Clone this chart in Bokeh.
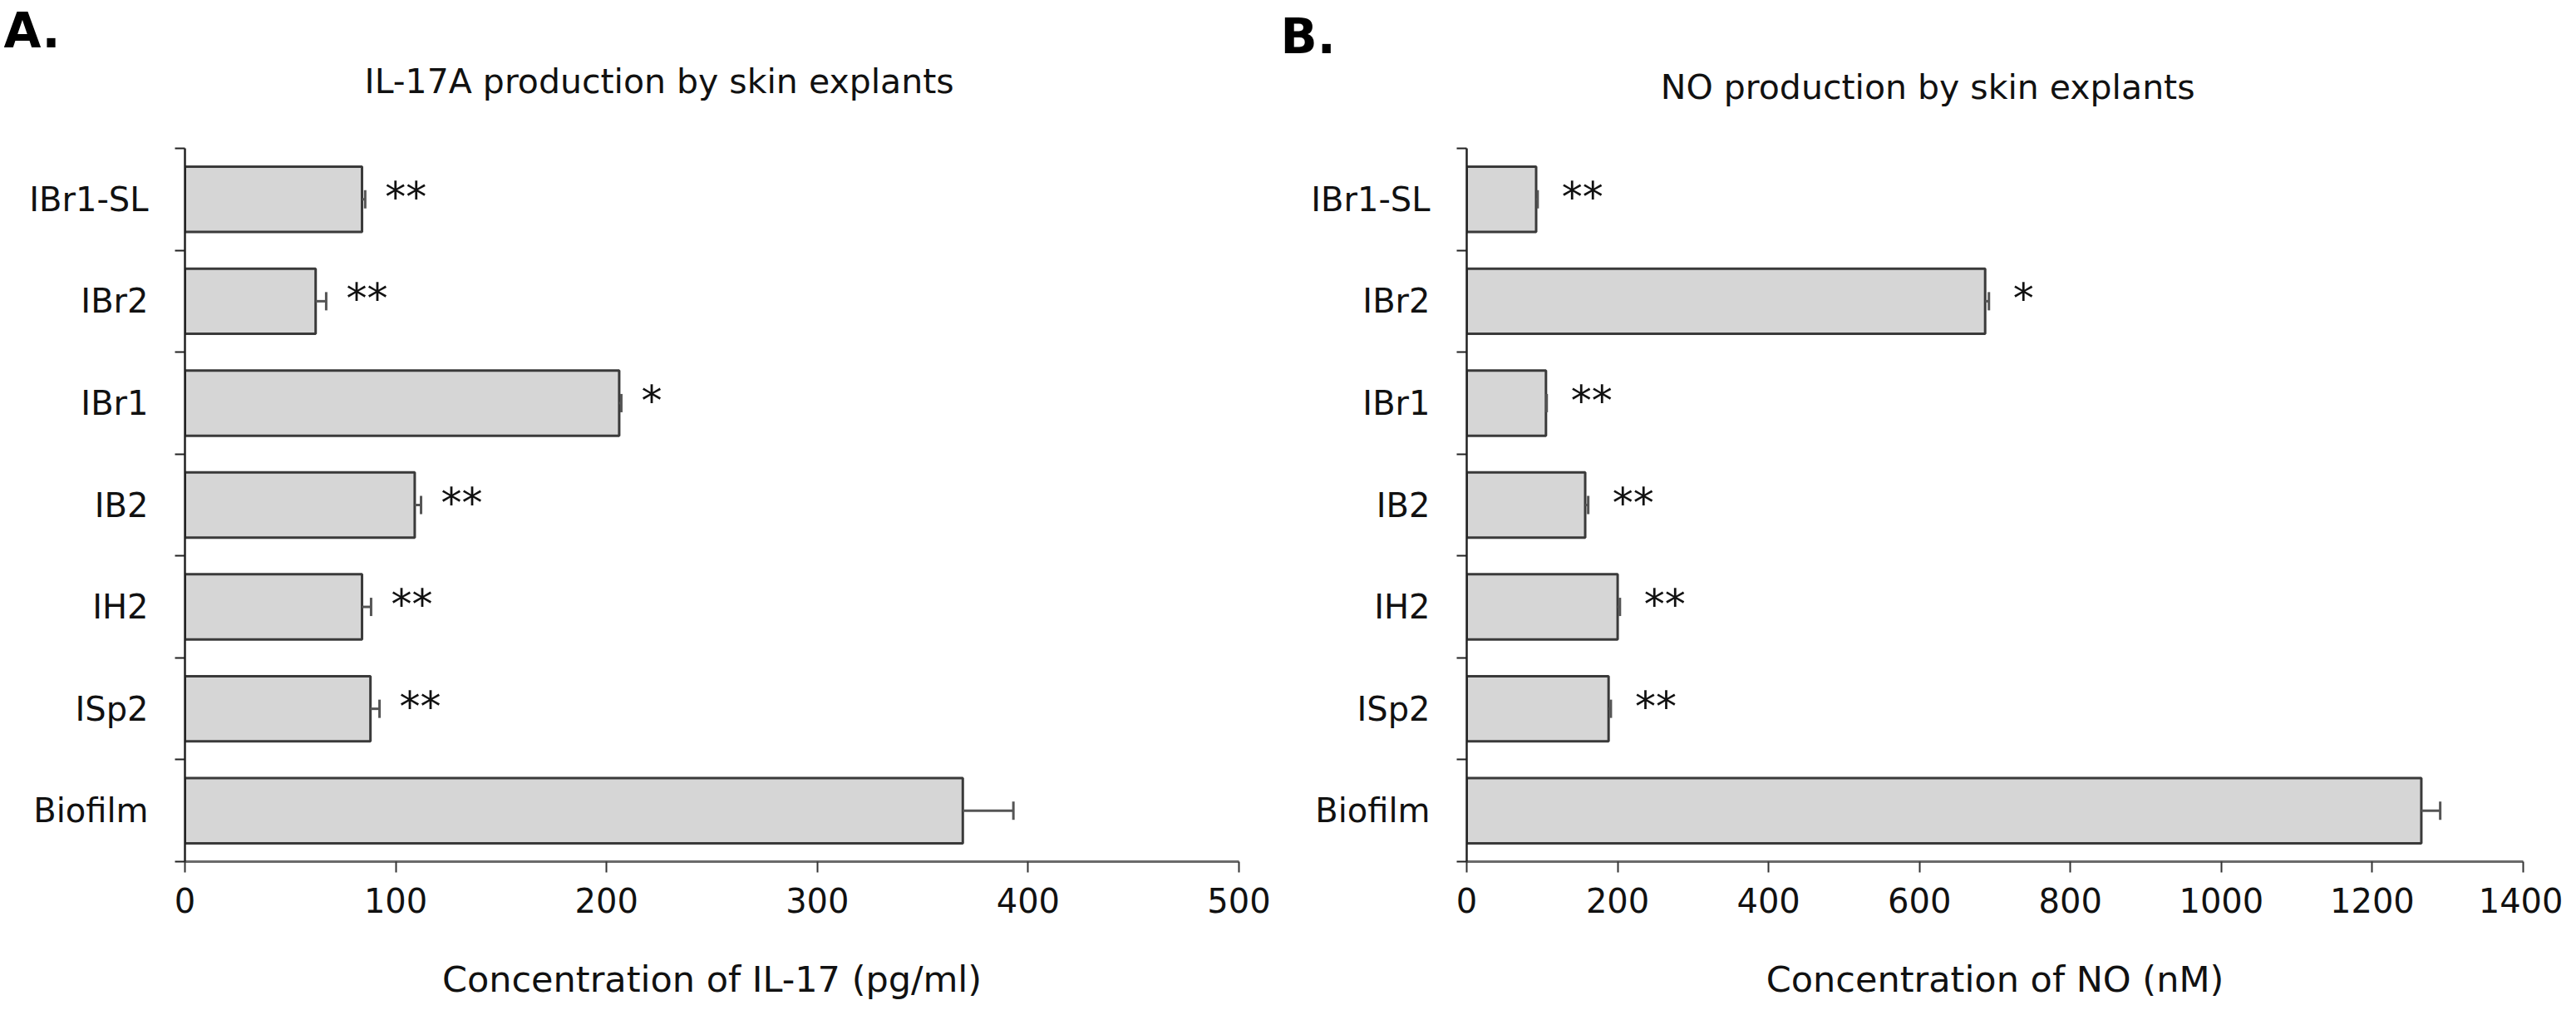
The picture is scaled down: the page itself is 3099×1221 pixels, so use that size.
from bokeh.plotting import figure
from bokeh.models import (ColumnDataSource, Range1d, FixedTicker, Whisker, TeeHead, Title,
                          LinearAxis)
from bokeh.layouts import row
from bokeh.core.properties import value
from bokeh.embed import file_html
from bokeh.resources import INLINE

# ---------------- data ----------------
categories = ["IBr1-SL", "IBr2", "IBr1", "IB2", "IH2", "ISp2", "Biofilm"]  # top to bottom

il17_mean = [84, 62, 206, 109, 84, 88, 369]
il17_err = [1.5, 5, 1, 3, 4.3, 4.3, 24]
il17_stars = ["**", "**", "*", "**", "**", "**", ""]
il17_ticks = [0, 100, 200, 300, 400, 500]

no_mean = [92, 687, 105, 157, 200, 188, 1265]
no_err = [2, 5, 1, 4, 3, 3, 25]
no_stars = ["**", "*", "**", "**", "**", "**", ""]
no_ticks = [0, 200, 400, 600, 800, 1000, 1200, 1400]

FONT = "DejaVu Sans"


def panel(mean, err, stars, ticks, xlabel, title, letter, width, borders,
          title_center, title_standoff, letter_offset, star_pad):
    n = len(categories)
    pos = [n - 1 - i for i in range(n)]
    src = ColumnDataSource(dict(
        pos=pos, mean=mean, upper=[m + e for m, e in zip(mean, err)],
        stars=stars, name=categories))
    p = figure(width=width, height=1205, x_range=Range1d(ticks[0], ticks[-1]),
               y_range=Range1d(-0.5, n - 0.5), output_backend="svg",
               toolbar_location=None, title=None,
               min_border_left=borders[0], min_border_right=borders[1],
               min_border_top=borders[2], min_border_bottom=borders[3])
    p.grid.visible = False
    p.outline_line_color = None
    p.background_fill_color = "white"

    p.hbar(y="pos", left=0, right="mean", height=0.64, source=src,
           fill_color="#d6d6d6", line_color="#3a3a3a", line_width=3)

    w = Whisker(source=src, base="pos", lower="mean", upper="upper", dimension="width",
                line_color="#555555", line_width=3, level="overlay",
                upper_head=TeeHead(size=22, line_color="#555555", line_width=3),
                lower_head=None)
    p.add_layout(w)

    p.text(x="upper", y="pos", text="stars", source=src, text_font=value(FONT),
           text_font_size="50px", text_color="#111111", text_baseline="alphabetic",
           text_align="left", x_offset=star_pad, y_offset=-3)

    # x axis
    xa = p.xaxis[0]
    xa.ticker = FixedTicker(ticks=ticks)
    xa.axis_line_color = "#6a6a6a"
    xa.axis_line_width = 3
    xa.major_tick_line_color = "#333333"
    xa.major_tick_line_width = 2
    xa.major_tick_out = 13
    xa.major_tick_in = 0
    xa.minor_tick_line_color = None
    xa.major_label_text_font = FONT
    xa.major_label_text_font_size = "40px"
    xa.major_label_text_color = "#111111"
    xa.major_label_standoff = 18
    xa.axis_label = xlabel
    xa.axis_label_text_font = FONT
    xa.axis_label_text_font_size = "43px"
    xa.axis_label_text_font_style = "normal"
    xa.axis_label_text_color = "#111111"
    xa.axis_label_standoff = 52

    # y axis: labels at band centres, tick marks at band boundaries
    ya = p.yaxis[0]
    ya.ticker = FixedTicker(ticks=pos, minor_ticks=[k - 0.5 for k in range(n + 1)])
    ya.major_label_overrides = {pp: nm for pp, nm in zip(pos, categories)}
    ya.major_tick_line_color = None
    ya.major_tick_out = 0
    ya.major_tick_in = 0
    ya.minor_tick_line_color = "#222222"
    ya.minor_tick_line_width = 2
    ya.minor_tick_out = 12
    ya.minor_tick_in = 0
    ya.axis_line_color = "#222222"
    ya.axis_line_width = 2.5
    ya.major_label_text_font = FONT
    ya.major_label_text_font_size = "40px"
    ya.major_label_text_color = "#111111"
    ya.major_label_standoff = 32

    # chart title: carried by a bare axis above the frame (no ticks, no line)
    ta = LinearAxis(ticker=FixedTicker(ticks=[title_center]),
                    major_label_overrides={title_center: title})
    ta.axis_line_color = None
    ta.major_tick_line_color = None
    ta.minor_tick_line_color = None
    ta.major_tick_out = 0
    ta.major_tick_in = 0
    ta.minor_tick_out = 0
    ta.major_label_standoff = title_standoff
    ta.major_label_text_font = FONT
    ta.major_label_text_font_size = "41px"
    ta.major_label_text_color = "#111111"
    p.add_layout(ta, "above")

    # panel letter
    p.add_layout(Title(text=letter, align="left", offset=letter_offset, standoff=0,
                       text_font=FONT, text_font_size="58px", text_font_style="bold",
                       text_color="#000000"), "above")
    return p


pA = panel(il17_mean, il17_err, il17_stars, il17_ticks, "Concentration of IL-17 (pg/ml)",
           "IL-17A production by skin explants", "A.", 1542, (222, 52, 177, 161),
           225, 57, -218, 24)
pB = panel(no_mean, no_err, no_stars, no_ticks, "Concentration of NO (nM)",
           "NO production by skin explants", "B.", 1541, (222, 48, 170, 169),
           611, 50, -224, 29)

layout = row(pA, pB)
open("out.html", "w").write(file_html(layout, INLINE))
